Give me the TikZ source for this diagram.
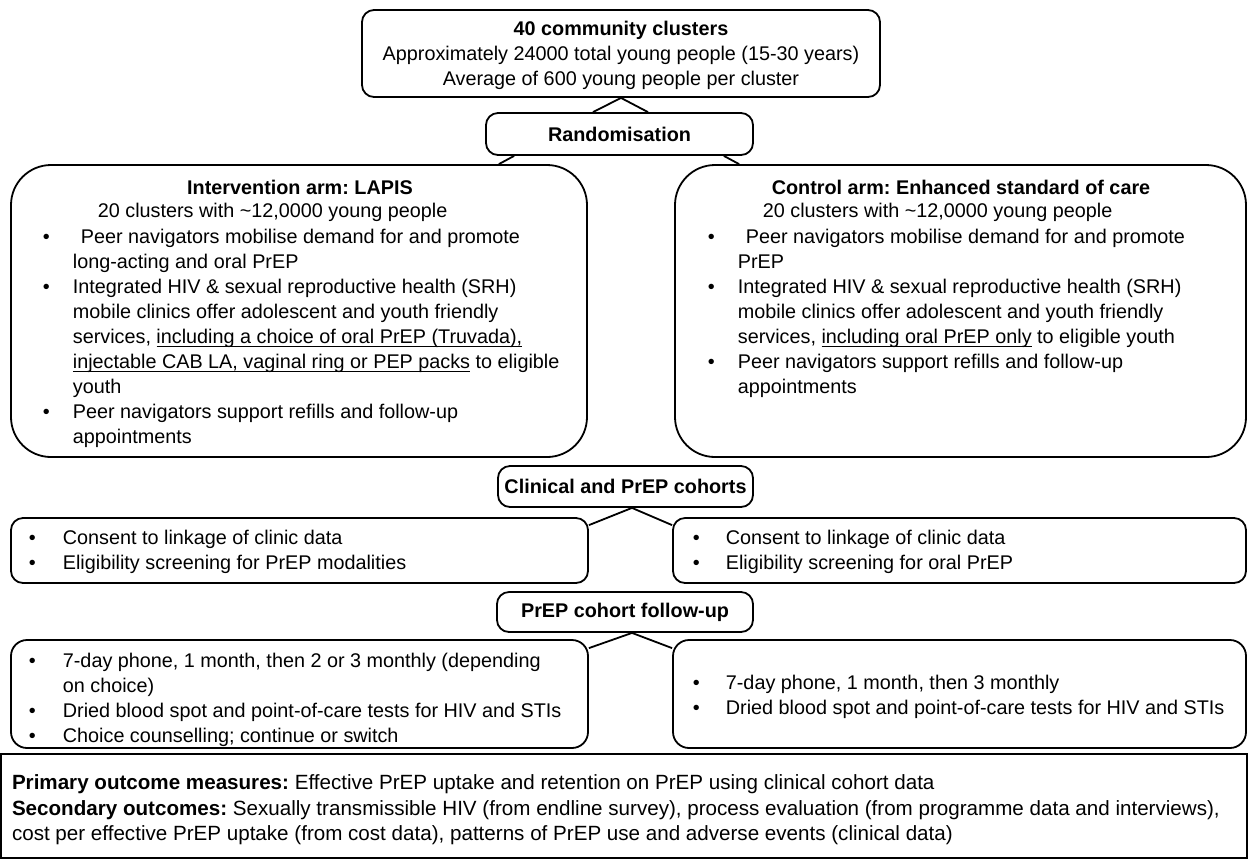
\documentclass[tikz,border=0pt]{standalone}
\usepackage{fontspec}
\setmainfont{Liberation Sans}
\usetikzlibrary{calc}
\frenchspacing

\newcommand{\bul}[1][15pt]{\makebox[#1][l]{\textbullet}}
\newcommand{\cont}{\hspace*{15pt}}
\newcommand{\ulin}[1]{\underline{\smash{#1}}}

\tikzset{
  pbox/.style={draw, rounded corners=6pt},
  headbox/.style={pbox, font=\fontsize{9.9}{12.5}\selectfont\bfseries},
  armbox/.style={draw, rounded corners=20pt},
  heading/.style={font=\fontsize{9.9}{12.5}\selectfont\bfseries},
  txt/.style={align=left, anchor=north west}
}

\begin{document}
\begin{tikzpicture}[x=0.5pt, y=-0.5pt, line width=0.9pt,
    every node/.style={font=\fontsize{9.9}{12.5}\selectfont, inner sep=0pt}]
  \useasboundingbox (0,0) rectangle (1248,859);

  % clusters and randomisation
  \node[pbox, minimum width=259pt, minimum height=43.5pt] (clusters) at (621,53.5) {};
  \node[align=center] (clusterstext) at (621,55.5)
    {\textbf{40 community clusters}\\
     Approximately 24000 total young people (15-30 years)\\
     Average of 600 young people per cluster};
  \node[headbox, minimum width=133.5pt, minimum height=21pt] (rand) at (619.5,134) {Randomisation};
  \draw ($(rand.north)+(-26.5,0)$) -- (clusters.south) -- ($(rand.north)+(28.5,0)$);

  % the two arms
  \node[armbox, minimum width=288pt, minimum height=146pt] (intbox) at (299,311) {};
  \node[armbox, minimum width=285.5pt, minimum height=146pt] (ctlbox) at (960.5,311) {};
  \draw ($(rand.south west)+(29,0)$) -- ($(intbox.north east)+(-89,0)$);
  \draw ($(rand.south east)+(-30,0)$) -- ($(ctlbox.north west)+(65,0)$);

  \node[heading] (inttitle) at (300,187) {Intervention arm: LAPIS};
  \node[anchor=west] (intsub) at (97,212) {20 clusters with \textasciitilde12,0000 young people};
  \node[txt] (intlist) at (42,228)
    {\bul\hspace*{4pt}Peer navigators mobilise demand for and promote\\
     \cont long-acting and oral PrEP\\
     \bul Integrated HIV \& sexual reproductive health (SRH)\\
     \cont mobile clinics offer adolescent and youth friendly\\
     \cont services, \ulin{including a choice of oral PrEP (Truvada),}\\
     \cont \ulin{injectable CAB LA, vaginal ring or PEP packs} to eligible\\
     \cont youth\\
     \bul Peer navigators support refills and follow-up\\
     \cont appointments};

  \node[heading] (ctltitle) at (961,187) {Control arm: Enhanced standard of care};
  \node[anchor=west] (ctlsub) at (762,212) {20 clusters with \textasciitilde12,0000 young people};
  \node[txt] (ctllist) at (707,228)
    {\bul\hspace*{4pt}Peer navigators mobilise demand for and promote\\
     \cont PrEP\\
     \bul Integrated HIV \& sexual reproductive health (SRH)\\
     \cont mobile clinics offer adolescent and youth friendly\\
     \cont services, \ulin{including oral PrEP only} to eligible youth\\
     \bul Peer navigators support refills and follow-up\\
     \cont appointments};

  % clinical and PrEP cohorts
  \node[headbox, minimum width=127.5pt, minimum height=20.5pt] (clin) at (625.5,486.5) {Clinical and PrEP cohorts};
  \node[pbox, minimum width=288.5pt, minimum height=32.5pt] (consl) at (299.5,550.5) {};
  \node[pbox, minimum width=286.5pt, minimum height=32.5pt] (consr) at (959.5,550.5) {};
  \draw ($(consl.north east)+(0,8)$) -- ($(clin.south)+(6.5,0)$) -- ($(consr.north west)+(0,8)$);
  \node[txt] (consltext) at (28,529)
    {\bul[17pt]Consent to linkage of clinic data\\
     \bul[17pt]Eligibility screening for PrEP modalities};
  \node[txt] (consrtext) at (692,529)
    {\bul[16.5pt]Consent to linkage of clinic data\\
     \bul[16.5pt]Eligibility screening for oral PrEP};

  % follow-up
  \node[headbox, minimum width=128pt, minimum height=20pt] (fup) at (625,612) {PrEP cohort follow-up};
  \node[pbox, rounded corners=8pt, minimum width=288.5pt, minimum height=54pt] (fupl) at (299.5,694) {};
  \node[pbox, rounded corners=8pt, minimum width=286.5pt, minimum height=54pt] (fupr) at (959.5,694) {};
  \draw ($(fupl.north east)+(0,9)$) -- ($(fup.south)+(7,0)$) -- ($(fupr.north west)+(0,9)$);
  \node[txt] (fupltext) at (28,652.5)
    {\bul[17pt]7-day phone, 1 month, then 2 or 3 monthly (depending\\
     \hspace*{17pt}on choice)\\
     \bul[17pt]Dried blood spot and point-of-care tests for HIV and STIs\\
     \bul[17pt]Choice counselling; continue or switch};
  \node[txt] (fuprtext) at (692,674)
    {\bul[16.5pt]7-day phone, 1 month, then 3 monthly\\
     \bul[16.5pt]Dried blood spot and point-of-care tests for HIV and STIs};

  % outcomes
  \node[draw, minimum width=623pt, minimum height=52pt] (outc) at (624,806) {};
  \node[align=left, anchor=west, font=\fontsize{10.3}{12.75}\selectfont] (outctext) at ($(outc.west)+(11,4)$)
    {\textbf{Primary outcome measures:} Effective PrEP uptake and retention on PrEP using clinical cohort data\\
     \textbf{Secondary outcomes:} Sexually transmissible HIV (from endline survey), process evaluation (from programme data and interviews),\\
     cost per effective PrEP uptake (from cost data), patterns of PrEP use and adverse events (clinical data)};
\end{tikzpicture}
\end{document}
